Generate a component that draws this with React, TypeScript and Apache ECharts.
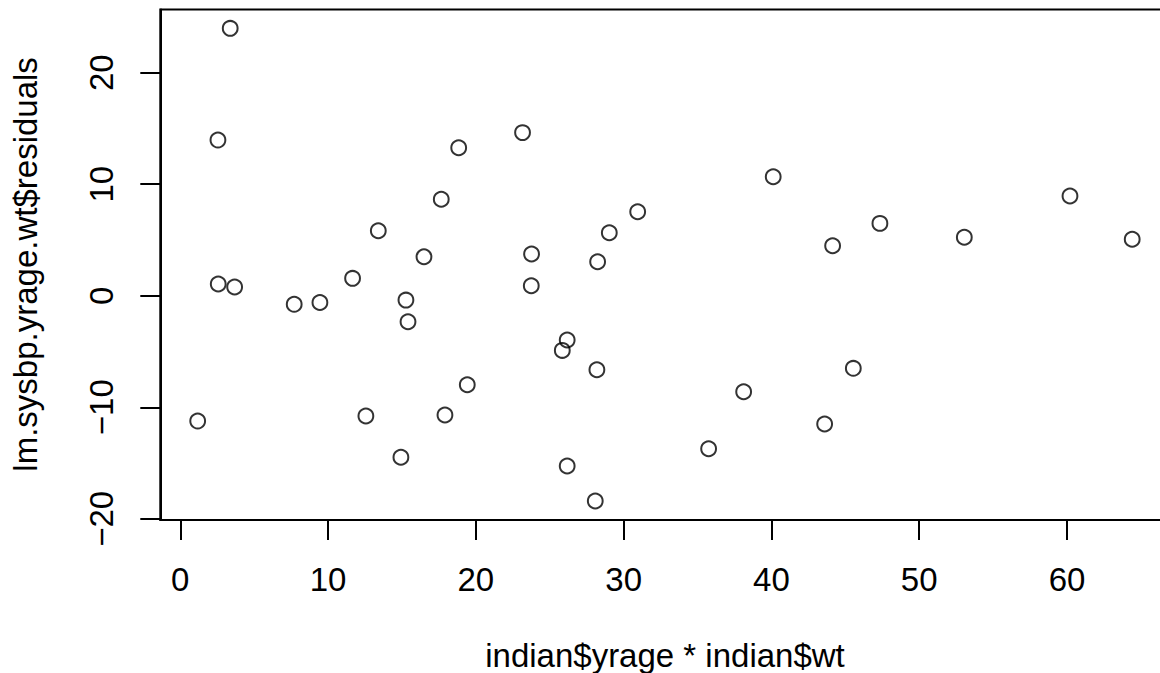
import React, { useEffect, useRef } from "react";
import * as echarts from "echarts";

const xValues = [
  3.38, 2.55, 2.57, 3.68, 1.18, 7.71, 9.45, 11.66, 13.4, 12.56, 15.27, 15.41, 14.93,
  16.49, 17.66, 18.84, 17.91, 19.42, 23.16, 23.77, 23.75, 25.85, 26.18, 26.18, 28.19,
  28.24, 28.08, 29.03, 30.95, 35.75, 38.12, 40.12, 43.6, 44.14, 45.54, 47.34, 53.05,
  60.2, 64.41,
];
const yValues = [
  23.98, 13.96, 1.05, 0.78, -11.24, -0.77, -0.6, 1.56, 5.83, -10.79, -0.39, -2.33, -14.49,
  3.5, 8.65, 13.27, -10.7, -7.98, 14.63, 3.74, 0.9, -4.9, -3.97, -15.27, -6.64,
  3.05, -18.41, 5.65, 7.53, -13.72, -8.61, 10.67, -11.5, 4.48, -6.51, 6.49, 5.24,
  8.94, 5.06,
];
const xTicks = [0, 10, 20, 30, 40, 50, 60];
const yTicks = [-20, -10, 0, 10, 20];
const xTitle = "indian$yrage * indian$wt";
const yTitle = "lm.sysbp.yrage.wt$residuals";

export default function App() {
  const ref = useRef<HTMLDivElement>(null);
  useEffect(() => {
    if (!ref.current) return;
    const chart = echarts.init(ref.current, null, { renderer: "svg" });
    const FONT = "Liberation Sans";
    const FS = 33;
    const xMin = -1.35;
    const xMax = 66.94;
    const yMin = -20.11;
    const yMax = 25.68;
    const fmt = (v: number) => String(v).replace("-", "\u2212");
    chart.setOption({
      animation: false,
      backgroundColor: "#ffffff",
      textStyle: { fontFamily: FONT },
      grid: {
        left: 160.3,
        top: 9.4,
        width: 1009.3,
        height: 510.6,
        show: true,
        borderColor: "#000",
        borderWidth: 2,
        backgroundColor: "transparent",
      },
      xAxis: {
        type: "value",
        min: xMin,
        max: xMax,
        splitLine: { show: false },
        axisLine: { show: true, onZero: false, lineStyle: { color: "#000", width: 2 } },
        axisTick: {
          show: true,
          customValues: xTicks,
          length: 20,
          lineStyle: { color: "#000", width: 2 },
        },
        axisLabel: {
          customValues: xTicks,
          formatter: fmt,
          fontSize: FS,
          fontFamily: FONT,
          color: "#000",
          margin: 59.9,
          verticalAlign: "middle",
        },
      },
      yAxis: {
        type: "value",
        min: yMin,
        max: yMax,
        splitLine: { show: false },
        axisLine: { show: true, onZero: false, lineStyle: { color: "#000", width: 2 } },
        axisTick: {
          show: true,
          customValues: yTicks,
          length: 20,
          lineStyle: { color: "#000", width: 2 },
        },
        axisLabel: {
          customValues: yTicks,
          formatter: fmt,
          fontSize: FS,
          fontFamily: FONT,
          color: "#000",
          rotate: 90,
          align: "center",
          verticalAlign: "middle",
          margin: 58.9,
        },
      },
      graphic: [
        {
          type: "text",
          x: 665,
          y: 655.5,
          silent: true,
          style: {
            text: xTitle,
            font: `${FS}px "${FONT}"`,
            fill: "#000",
            textAlign: "center",
            textVerticalAlign: "middle",
          },
        },
        {
          type: "text",
          x: 25,
          y: 264.4,
          rotation: Math.PI / 2,
          silent: true,
          style: {
            text: yTitle,
            font: `${FS}px "${FONT}"`,
            fill: "#000",
            textAlign: "center",
            textVerticalAlign: "middle",
          },
        },
      ],
      series: [
        {
          type: "scatter",
          silent: true,
          symbol: "circle",
          symbolSize: 14.8,
          data: xValues.map((x, i) => [x, yValues[i]]),
          itemStyle: {
            color: "rgba(0,0,0,0)",
            borderColor: "#000",
            borderWidth: 2,
          },
        },
      ],
    });
    return () => chart.dispose();
  }, []);
  return (
    <div
      style={{
        position: "absolute",
        left: 0,
        top: 0,
        width: 1160,
        height: 673,
        overflow: "hidden",
        background: "#fff",
      }}
    >
      <div ref={ref} style={{ width: 1200, height: 673 }} />
    </div>
  );
}
